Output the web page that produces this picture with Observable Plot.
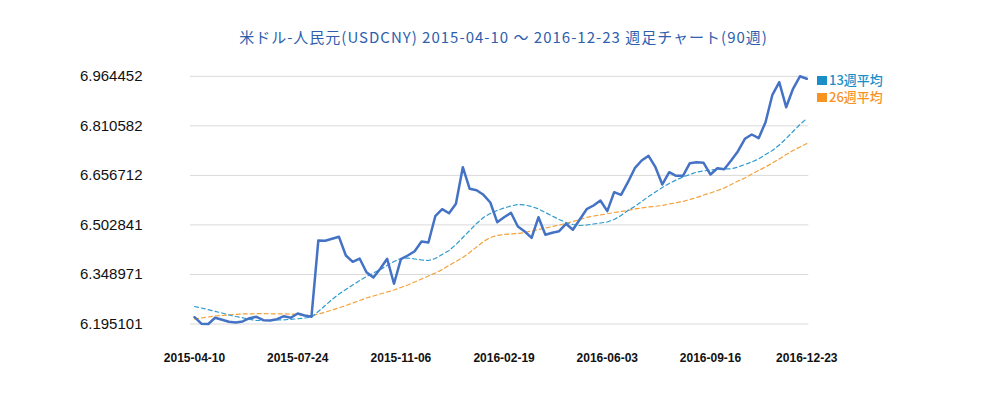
<!DOCTYPE html>
<html>
<head>
<meta charset="utf-8">
<script src="https://cdn.jsdelivr.net/npm/d3@7"></script>
<script src="https://cdn.jsdelivr.net/npm/@observablehq/plot@0.6"></script>
<style>
  html, body { margin: 0; padding: 0; background: #ffffff; }
  #wrap { position: relative; width: 1007px; height: 393px; overflow: hidden; }
  #title { position: absolute; left: 0; top: 26px; width: 1007px; text-align: center;
           font-family: "Noto Sans CJK JP", sans-serif; font-size: 15px; letter-spacing: 1px; color: #2e5fae; white-space: nowrap; }
  .leg { position: absolute; left: 817px; font-family: "Noto Sans CJK JP", sans-serif; font-size: 13px; font-weight: 500; line-height: 16px; white-space: nowrap; }
  .leg span.sw { display: inline-block; width: 10px; height: 9px; margin-right: 2px; vertical-align: -0px; }
</style>
</head>
<body>
<div id="wrap">
  <div id="title">米ドル-人民元(USDCNY) 2015-04-10 ～ 2016-12-23 週足チャート(90週)</div>
  <div id="chart"></div>
  <div class="leg" style="top:72px;color:#1a8fc7"><span class="sw" style="background:#1a8fc7"></span>13週平均</div>
  <div class="leg" style="top:89px;color:#f7931e"><span class="sw" style="background:#f7931e"></span>26週平均</div>
</div>
<script>
// Weekly close, USD/CNY, 2015-04-10 .. 2016-12-23 (90 weeks)
const price = [
  6.2162, 6.1960, 6.1951, 6.2144, 6.2081, 6.2019, 6.1998, 6.2029, 6.2131, 6.2175,
  6.2069, 6.2060, 6.2100, 6.2193, 6.2144, 6.2277, 6.2215, 6.2175, 6.4545, 6.4535,
  6.4597, 6.4659, 6.4079, 6.3883, 6.3985, 6.3560, 6.3395, 6.3666, 6.3976, 6.3200,
  6.3964, 6.4079, 6.4212, 6.4513, 6.4482, 6.5299, 6.5517, 6.5392, 6.5684, 6.6821,
  6.6150, 6.6107, 6.5964, 6.5725, 6.5113, 6.5268, 6.5405, 6.4979, 6.4824, 6.4628,
  6.5268, 6.4722, 6.4784, 6.4833, 6.5063, 6.4877, 6.5197, 6.5517, 6.5632, 6.5787,
  6.5455, 6.6045, 6.5964, 6.6355, 6.6790, 6.7029, 6.7175, 6.6821, 6.6284, 6.6666,
  6.6554, 6.6554, 6.6945, 6.6977, 6.6958, 6.6594, 6.6790, 6.6759, 6.7029, 6.7318,
  6.7703, 6.7837, 6.7722, 6.8219, 6.9070, 6.9461, 6.8685, 6.9256, 6.964452, 6.9567
];
// 13-week moving average
const ma13 = [
  6.2495, 6.2448, 6.2395, 6.2345, 6.2293, 6.2231, 6.2184, 6.2144, 6.2097, 6.2060,
  6.2060, 6.2060, 6.2075, 6.2081, 6.2097, 6.2113, 6.2137, 6.2162, 6.2339, 6.2526,
  6.2712, 6.2883, 6.3023, 6.3162, 6.3302, 6.3426, 6.3535, 6.3644, 6.3768, 6.3892,
  6.3985, 6.4001, 6.3970, 6.3939, 6.3923, 6.3985, 6.4110, 6.4234, 6.4420, 6.4638,
  6.4855, 6.5073, 6.5259, 6.5383, 6.5476, 6.5554, 6.5616, 6.5663, 6.5647, 6.5601,
  6.5523, 6.5414, 6.5305, 6.5197, 6.5104, 6.5041, 6.5010, 6.5026, 6.5057, 6.5088,
  6.5119, 6.5197, 6.5321, 6.5476, 6.5601, 6.5756, 6.5911, 6.6051, 6.6191, 6.6315,
  6.6424, 6.6517, 6.6594, 6.6672, 6.6703, 6.6734, 6.6750, 6.6765, 6.6772, 6.6827,
  6.6905, 6.6983, 6.7076, 6.7216, 6.7340, 6.7511, 6.7713, 6.7930, 6.8147, 6.8334
];
// 26-week moving average
const ma26 = [
  6.2113, 6.2137, 6.2168, 6.2199, 6.2215, 6.2237, 6.2252, 6.2262, 6.2268, 6.2271,
  6.2271, 6.2268, 6.2268, 6.2265, 6.2258, 6.2246, 6.2227, 6.2206, 6.2262, 6.2318,
  6.2386, 6.2454, 6.2526, 6.2603, 6.2681, 6.2759, 6.2821, 6.2883, 6.2945, 6.3007,
  6.3085, 6.3162, 6.3256, 6.3349, 6.3442, 6.3535, 6.3644, 6.3768, 6.3892, 6.4016,
  6.4172, 6.4343, 6.4513, 6.4638, 6.4700, 6.4731, 6.4746, 6.4762, 6.4793, 6.4840,
  6.4886, 6.4933, 6.4979, 6.5026, 6.5073, 6.5135, 6.5197, 6.5259, 6.5305, 6.5337,
  6.5374, 6.5414, 6.5445, 6.5476, 6.5523, 6.5554, 6.5585, 6.5607, 6.5632, 6.5678,
  6.5716, 6.5756, 6.5818, 6.5880, 6.5958, 6.6020, 6.6098, 6.6175, 6.6284, 6.6393,
  6.6486, 6.6610, 6.6719, 6.6827, 6.6952, 6.7076, 6.7216, 6.7340, 6.7449, 6.7557
];
const xTickIndex = [0, 15, 30, 45, 60, 75, 89];
const xTickLabels = ["2015-04-10", "2015-07-24", "2015-11-06", "2016-02-19", "2016-06-03", "2016-09-16", "2016-12-23"];
const yTicks = [6.195101, 6.348971, 6.502841, 6.656712, 6.810582, 6.964452];

const rows = price.map((v, i) => ({i, price: v, ma13: ma13[i], ma26: ma26[i]}));

const chart = Plot.plot({
  width: 1007,
  height: 393,
  marginLeft: 194,
  marginRight: 200.7,
  marginTop: 75.8,
  marginBottom: 69.5,
  style: {background: "transparent", overflow: "visible"},
  x: {domain: [0, 89], axis: null},
  y: {domain: [yTicks[0], yTicks[yTicks.length - 1]], axis: null},
  marks: [
    Plot.ruleY(yTicks, {x1: -0.6, x2: 89.3, stroke: "#d9d9d9", strokeWidth: 1}),
    Plot.axisY({ticks: yTicks, tickSize: 0, tickPadding: 52, tickFormat: d => d.toFixed(6),
      fontSize: 15, fill: "#111", fontFamily: "Liberation Sans, sans-serif", label: null}),
    Plot.axisX({ticks: xTickIndex, tickSize: 0, tickPadding: 29, tickFormat: (d) => xTickLabels[xTickIndex.indexOf(d)],
      fontSize: 12, fontWeight: "bold", fill: "#111", fontFamily: "Liberation Sans, sans-serif", label: null}),
    Plot.line(rows, {x: "i", y: "ma26", stroke: "#f4a13a", strokeWidth: 1.2, strokeDasharray: "4,3"}),
    Plot.line(rows, {x: "i", y: "ma13", stroke: "#2e9bd0", strokeWidth: 1.2, strokeDasharray: "4,3"}),
    Plot.line(rows, {x: "i", y: "price", stroke: "#4472c4", strokeWidth: 2.5})
  ]
});
document.getElementById("chart").appendChild(chart);
</script>
</body>
</html>
